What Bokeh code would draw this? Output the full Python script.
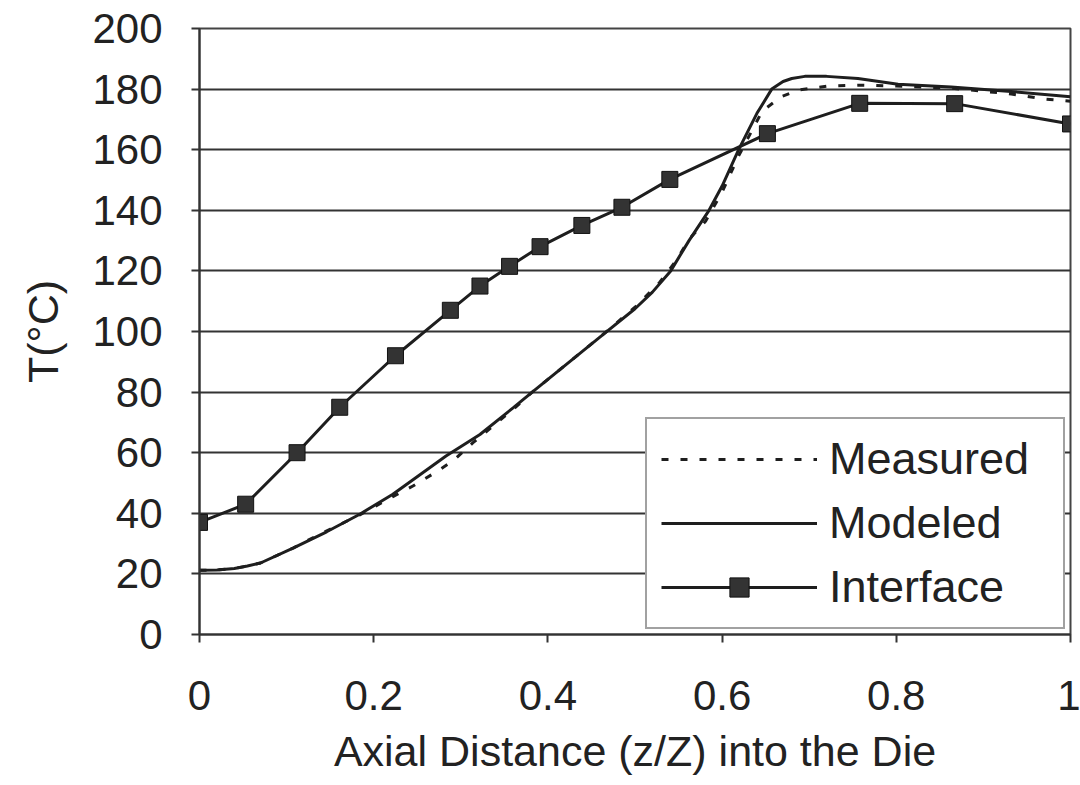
from bokeh.plotting import figure
from bokeh.models import FixedTicker, Legend, LegendItem, Range1d
from bokeh.embed import file_html
from bokeh.resources import INLINE

# ---- data ----
x_meas = [0.0, 0.02, 0.04, 0.055, 0.07, 0.108, 0.134, 0.184, 0.222, 0.245, 0.272, 0.291, 0.314, 0.337,
          0.362, 0.382, 0.394, 0.459, 0.50, 0.528, 0.547, 0.562, 0.581, 0.60, 0.619, 0.646, 0.668,
          0.688, 0.722, 0.76, 0.80, 0.863, 0.932, 0.97, 1.0]
y_meas = [21.2, 21.3, 21.8, 22.6, 23.6, 28.6, 32.5, 39.5, 45.5, 49.0, 53.7, 57.3, 63.3, 68.8,
          74.8, 80.0, 82.8, 98.0, 108.0, 116.1, 123.3, 130.4, 136.4, 146.0, 158.0, 172.7, 177.5,
          179.7, 181.0, 181.3, 181.0, 180.3, 178.4, 176.7, 176.0]

x_model = [0.0, 0.02, 0.04, 0.055, 0.07, 0.108, 0.146, 0.184, 0.222, 0.283, 0.322, 0.36, 0.382,
           0.394, 0.459, 0.50, 0.52, 0.541, 0.562, 0.585, 0.60, 0.619, 0.64, 0.657, 0.67, 0.68,
           0.695, 0.72, 0.756, 0.802, 0.863, 0.924, 1.0]
y_model = [21.2, 21.3, 21.8, 22.6, 23.6, 28.6, 33.9, 39.7, 46.3, 58.9, 66.0, 74.8, 80.0,
           82.8, 98.0, 107.5, 113.0, 120.0, 130.0, 140.0, 148.0, 160.0, 172.0, 180.0, 182.5, 183.5,
           184.2, 184.2, 183.5, 181.6, 180.7, 179.4, 177.5]

x_int = [0.0, 0.053, 0.112, 0.161, 0.225, 0.288, 0.322, 0.356, 0.391, 0.439, 0.485,
         0.540, 0.652, 0.758, 0.867, 1.0]
y_int = [37.0, 43.0, 60.0, 75.0, 92.0, 107.0, 115.0, 121.5, 128.0, 135.0, 141.0,
         150.2, 165.3, 175.3, 175.2, 168.5]

x_ticks = [0, 0.2, 0.4, 0.6, 0.8, 1.0]
x_tick_labels = ["0", "0.2", "0.4", "0.6", "0.8", "1"]
y_ticks = [0, 20, 40, 60, 80, 100, 120, 140, 160, 180, 200]

x_title = "Axial Distance (z/Z) into the Die"
y_title = "T(°C)"

FONT = "Liberation Sans"
INK = "#1e1e1e"

p = figure(width=1080, height=785, output_backend="svg", toolbar_location=None,
           x_range=Range1d(0, 1), y_range=Range1d(0, 200),
           min_border_left=199, min_border_right=10, min_border_top=28, min_border_bottom=151)
p.background_fill_color = "white"
p.border_fill_color = "white"
p.outline_line_color = "#444444"
p.outline_line_width = 2

# axes
p.xaxis.ticker = FixedTicker(ticks=x_ticks)
p.xaxis.major_label_overrides = {t: l for t, l in zip(x_ticks, x_tick_labels)}
p.yaxis.ticker = FixedTicker(ticks=y_ticks)
for ax in (p.xaxis[0], p.yaxis[0]):
    ax.axis_line_color = "#333333"
    ax.axis_line_width = 2
    ax.major_tick_line_color = "#333333"
    ax.major_tick_line_width = 2
    ax.major_tick_in = 0
    ax.major_tick_out = 8
    ax.minor_tick_line_color = None
    ax.major_label_text_font = FONT
    ax.major_label_text_font_size = "42px"
    ax.major_label_text_color = "#222222"
    ax.axis_label_text_font = FONT
    ax.axis_label_text_font_size = "43px"
    ax.axis_label_text_font_style = "normal"
    ax.axis_label_text_color = "#222222"
p.xaxis.major_label_standoff = 38
p.xaxis.axis_label_standoff = 14
p.yaxis.major_label_standoff = 29
p.yaxis.axis_label_standoff = 22
p.xaxis.axis_label = x_title
p.yaxis.axis_label = y_title

p.xgrid.grid_line_color = None
p.ygrid.grid_line_color = "#333333"
p.ygrid.grid_line_width = 2

# series
r_meas = p.line(x_meas, y_meas, line_color=INK, line_width=3, line_dash="7 12")
r_model = p.line(x_model, y_model, line_color=INK, line_width=3)
r_int_line = p.line(x_int, y_int, line_color=INK, line_width=3)
r_int_pts = p.scatter(x_int, y_int, marker="square", size=16, fill_color="#333333",
                      line_color="#111111", line_width=1)

legend = Legend(items=[
    LegendItem(label="Measured", renderers=[r_meas]),
    LegendItem(label="Modeled", renderers=[r_model]),
    LegendItem(label="Interface", renderers=[r_int_line, r_int_pts]),
], location="bottom_right")
legend.label_text_font = FONT
legend.label_text_font_size = "45px"
legend.label_text_color = "#222222"
legend.glyph_width = 156
legend.glyph_height = 48
legend.label_height = 48
legend.label_width = 220
legend.label_standoff = 12
legend.spacing = 12
legend.padding = 14
legend.margin = 5
legend.border_line_color = "#444444"
legend.border_line_width = 2
legend.background_fill_color = "white"
legend.background_fill_alpha = 1
p.add_layout(legend)

open("out.html", "w").write(file_html(p, INLINE))
